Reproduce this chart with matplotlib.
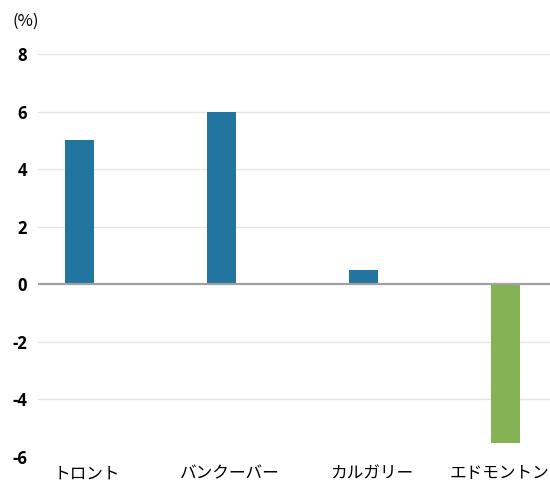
import matplotlib
matplotlib.use("Agg")
import matplotlib.pyplot as plt
from matplotlib.transforms import ScaledTranslation

plt.rcParams['font.family'] = ['Noto Sans CJK JP', 'DejaVu Sans']

cities = ["トロント", "バンクーバー", "カルガリー", "エドモントン"]
changes = [5.0, 6.0, 0.5, -5.5]
bar_colors = ["#21759f", "#21759f", "#21759f", "#84b255"]
y_ticks = [8, 6, 4, 2, 0, -2, -4, -6]

fig = plt.figure(figsize=(5.5, 4.83), dpi=100)
ax = fig.add_axes([38 / 550, 1 - 457 / 483, 1 - 38 / 550, (457 - 54) / 483])

x = range(len(cities))
ax.bar(x, changes, width=0.205, color=bar_colors, zorder=3)

ax.set_xlim(-0.29, 3.31)
ax.set_ylim(-6, 8)

for v in y_ticks:
    if v == 0:
        ax.axhline(0, color="#a0a0a0", lw=1.6, zorder=4)
    elif v != -6:
        ax.axhline(v, color="#e6e6e6", lw=1.0, zorder=1)

ax.set_yticks(y_ticks)
ax.set_yticklabels([str(v) for v in y_ticks], fontsize=12, fontweight="bold",
                   family=["Open Sans", "DejaVu Sans"])
ax.set_xticks(list(x))
ax.set_xticklabels(cities, fontsize=12)
ax.tick_params(axis="both", length=0)
ax.tick_params(axis="y", pad=8)
ax.tick_params(axis="x", pad=6)

# category labels sit slightly right of their bars; the last one is kept inside the figure
offsets_px = [8, 8, 8, -6]
for lbl, dx in zip(ax.get_xticklabels(), offsets_px):
    lbl.set_transform(lbl.get_transform() + ScaledTranslation(dx / 100, 0, fig.dpi_scale_trans))

for s in ax.spines.values():
    s.set_visible(False)

fig.text(12 / 550, 1 - 21 / 483, "(%)", fontsize=12, va="center", ha="left")

fig.savefig("out.png", dpi=100)
